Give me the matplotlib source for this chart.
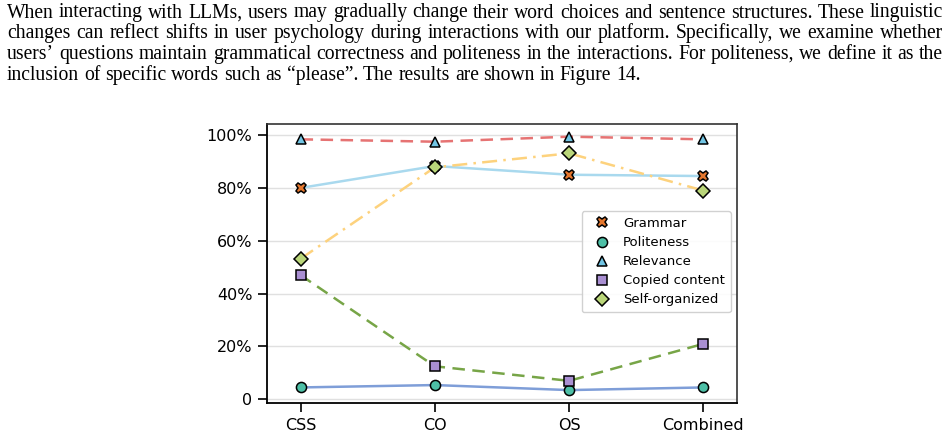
import matplotlib
matplotlib.use("Agg")
import matplotlib.pyplot as plt
from matplotlib.ticker import FuncFormatter
from matplotlib.lines import Line2D

# ---------------- data ----------------
categories = ["CSS", "CO", "OS", "Combined"]
grammar = [80.0, 88.3, 85.0, 84.5]
politeness = [4.5, 5.4, 3.5, 4.5]
relevance = [98.4, 97.5, 99.4, 98.4]
copied_content = [47.0, 12.5, 7.0, 21.0]
self_organized = [53.2, 87.8, 93.1, 79.0]
series_labels = ["Grammar", "Politeness", "Relevance", "Copied content", "Self-organized"]
y_ticks = [0, 20, 40, 60, 80, 100]

paragraph_lines = [
    "When interacting with LLMs, users may gradually change their word choices and sentence structures. These linguistic",
    "changes can reflect shifts in user psychology during interactions with our platform. Specifically, we examine whether",
    "users\u2019 questions maintain grammatical correctness and politeness in the interactions. For politeness, we define it as the",
    "inclusion of specific words such as \u201cplease\u201d. The results are shown in Figure 14.",
]

W, H = 950, 437
fig = plt.figure(figsize=(W / 100, H / 100), dpi=100)
renderer = fig.canvas.get_renderer()

# ---------------- justified paragraph ----------------
left_px, right_px = 7.0, 943.0
last_line_end = 642.0
baselines = [17.5, 38.4, 59.3, 80.2]


def width_px(s, size):
    t = fig.text(0, 0, s, family="Liberation Serif", size=size)
    w = t.get_window_extent(renderer=renderer).width
    t.remove()
    return w


# fit the font size so that the (unjustified) last line has the reference width
size = 11.4
size *= (last_line_end - left_px) / width_px(paragraph_lines[-1], size)
# make sure every justified line still fits with a reasonable minimum gap
while True:
    sp = width_px("a a", size) - 2 * width_px("a", size)
    ok = all(sum(width_px(w, size) for w in ln.split(" ")) + 0.6 * sp * (len(ln.split(" ")) - 1)
             <= right_px - left_px for ln in paragraph_lines[:-1])
    if ok:
        break
    size -= 0.1

text_font = dict(family="Liberation Serif", size=size, color="black")
space_w = width_px("a a", size) - 2 * width_px("a", size)
for i, line in enumerate(paragraph_lines):
    words = line.split(" ")
    widths = [width_px(w, size) for w in words]
    last = i == len(paragraph_lines) - 1
    gap = space_w if last else (right_px - left_px - sum(widths)) / (len(words) - 1)
    x = left_px
    for w, wd in zip(words, widths):
        fig.text(x / W, 1 - baselines[i] / H, w, ha="left", va="baseline", **text_font)
        x += wd + gap

# ---------------- chart ----------------
ax = fig.add_axes([267 / W, 1 - 402.5 / H, (737 - 267) / W, (402.5 - 124) / H])
x = list(range(len(categories)))

line_specs = [
    (grammar, "#a9d9ee", "-"),
    (politeness, "#7f9ed8", "-"),
    (relevance, "#e67373", (0, (5, 3))),
    (copied_content, "#77a547", (0, (5, 3))),
    (self_organized, "#fdd27d", (0, (6, 2.5, 1, 2.5))),
]
for vals, col, ls in line_specs:
    ax.plot(x, vals, color=col, linestyle=ls, linewidth=1.8, zorder=2)

marker_specs = [
    (grammar, "X", "#e5772e", 7.6),
    (politeness, "o", "#4dbfa6", 7.3),
    (relevance, "^", "#72c5e4", 7.6),
    (copied_content, "s", "#a98fd2", 7.4),
    (self_organized, "D", "#bad67a", 6.8),
]
handles = []
for (vals, m, col, ms), lab in zip(marker_specs, series_labels):
    ax.plot(x, vals, linestyle="none", marker=m, markersize=ms, markerfacecolor=col,
            markeredgecolor="black", markeredgewidth=1.1, zorder=3)
    handles.append(Line2D([], [], linestyle="none", marker=m, markersize=ms,
                          markerfacecolor=col, markeredgecolor="black",
                          markeredgewidth=1.1, label=lab))

ax.set_xlim(-0.25, 3.25)
ax.set_ylim(-1.2, 104.2)
ax.set_xticks(x)
ax.set_xticklabels(categories)
ax.set_yticks(y_ticks)
ax.yaxis.set_major_formatter(FuncFormatter(lambda v, p: "0" if v == 0 else f"{v:.0f}%"))
ax.grid(axis="y", color="#e0e0e0", linewidth=1.0, zorder=0)
ax.set_axisbelow(True)
ax.tick_params(axis="both", labelsize=11.5, length=6.5, width=1.2, colors="black")
ax.tick_params(axis="y", pad=4)
ax.tick_params(axis="x", pad=5)
for s in ["left", "bottom"]:
    ax.spines[s].set_linewidth(1.3)
    ax.spines[s].set_color("black")
for s in ["top", "right"]:
    ax.spines[s].set_linewidth(1.2)
    ax.spines[s].set_color("#333333")

ax.legend(handles=handles, loc="lower right", bbox_to_anchor=(0.987, 0.324),
          borderaxespad=0, fontsize=9.5, frameon=True, handletextpad=0.5,
          labelspacing=0.46, borderpad=0.45, handlelength=2.2,
          edgecolor="#cccccc", framealpha=0.9)

fig.savefig("out.png", dpi=100)
